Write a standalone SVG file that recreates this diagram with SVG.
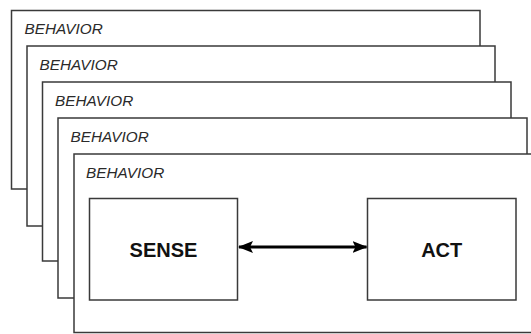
<svg xmlns="http://www.w3.org/2000/svg" width="531" height="334" viewBox="0 0 531 334">
  <style>
    .frame { fill: #ffffff; stroke: #3a3a3a; stroke-width: 1.5; }
    .box { fill: #ffffff; stroke: #3a3a3a; stroke-width: 1.5; }
    .lbl { font-family: "Liberation Sans", Arial, sans-serif; font-style: italic; font-size: 15.3px; fill: #2a2a2a; }
    .big { font-family: "Liberation Sans", Arial, sans-serif; font-weight: bold; font-size: 20px; fill: #111111; text-anchor: middle; }
    .conn { stroke: #000000; stroke-width: 3; fill: none; }
  </style>
  <defs>
    <marker id="ah" viewBox="0 0 15 12" refX="14" refY="6" markerWidth="15" markerHeight="12" markerUnits="userSpaceOnUse" orient="auto-start-reverse">
      <path d="M0,0 L15,6 L0,12 L3,6 Z" fill="#000000"/>
    </marker>
  </defs>
  <rect width="531" height="334" fill="#ffffff"/>
  <g id="behavior1">
    <rect class="frame" x="11.5" y="10.5" width="468.5" height="178.5"/>
    <text class="lbl" x="24.5" y="34">BEHAVIOR</text>
  </g>
  <g id="behavior2">
    <rect class="frame" x="27" y="46" width="468" height="180"/>
    <text class="lbl" x="39.5" y="70">BEHAVIOR</text>
  </g>
  <g id="behavior3">
    <rect class="frame" x="42.5" y="82" width="468.5" height="179"/>
    <text class="lbl" x="55" y="106">BEHAVIOR</text>
  </g>
  <g id="behavior4">
    <rect class="frame" x="58" y="118" width="469" height="180"/>
    <text class="lbl" x="70.5" y="142">BEHAVIOR</text>
  </g>
  <g id="behavior5">
    <rect class="frame" x="74" y="154" width="470" height="178.5"/>
    <text class="lbl" x="86" y="177.5">BEHAVIOR</text>
  </g>
  <g id="sense">
    <rect class="box" x="89.5" y="198.5" width="148" height="101.5"/>
    <text class="big" x="163.5" y="257">SENSE</text>
  </g>
  <g id="act">
    <rect class="box" x="367.5" y="198.5" width="148.5" height="101.5"/>
    <text class="big" x="441.7" y="257">ACT</text>
  </g>
  <g id="connectors">
    <line class="conn" x1="239" y1="247" x2="366.5" y2="247" marker-start="url(#ah)" marker-end="url(#ah)"/>
  </g>
</svg>
